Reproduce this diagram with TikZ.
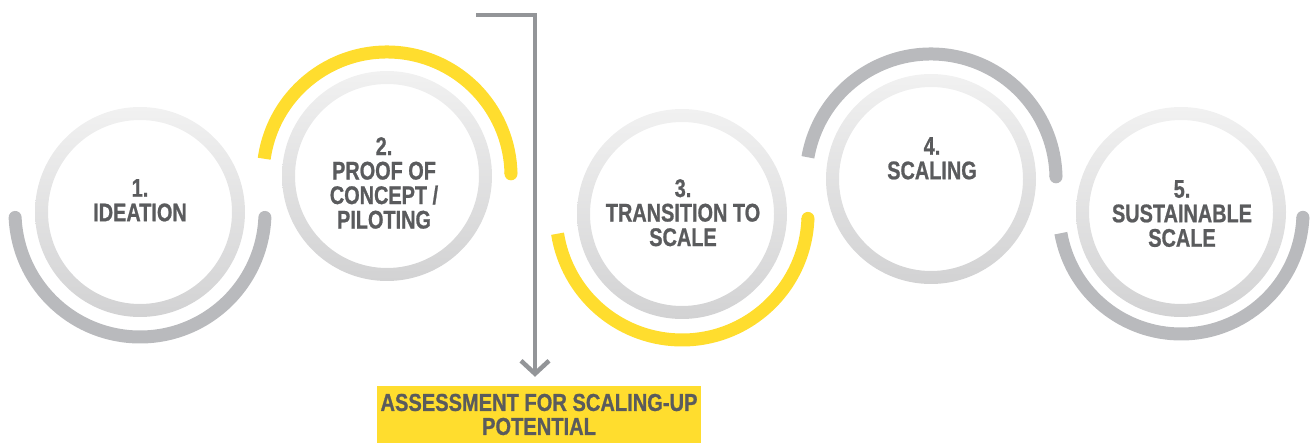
\documentclass[tikz,border=0pt]{standalone}
\usepackage{fontspec}
\newfontfamily\dinfont[FakeStretch=0.78,FakeBold=0.8]{Liberation Sans Bold}
\newfontfamily\dinboxfont[FakeStretch=0.82,FakeBold=0.8]{Liberation Sans Bold}
\usetikzlibrary{calc}
\definecolor{ringtop}{HTML}{F1F1F1}
\definecolor{ringbot}{HTML}{D2D2D3}
\definecolor{arcgray}{HTML}{B9BABD}
\definecolor{arcyellow}{HTML}{FFDD2E}
\definecolor{txtgray}{HTML}{5A5B5D}
\definecolor{conngray}{HTML}{939598}
\usetikzlibrary{arrows.meta}
\begin{document}
\begin{tikzpicture}[x=1pt,y=-1pt,
  stagetext/.style={anchor=north, inner sep=0pt, align=center, text=txtgray,
    font=\dinfont\fontsize{25.5}{24.5}\selectfont},
  ringshade/.style={top color=ringtop, bottom color=ringbot, even odd rule},
  outerarc/.style={line width=13pt, line cap=butt},
  roundboth/.style={line width=13pt, line cap=round},
  conn/.style={draw=conngray, line width=4.5pt, -{Straight Barb[length=13pt,width=28pt]}},
  assessbox/.style={fill=arcyellow, minimum width=324pt, minimum height=57pt, inner sep=0pt,
    align=center, text=txtgray, font=\dinboxfont\fontsize{24.5}{24}\selectfont}
]
\useasboundingbox (0,0) rectangle (1312,443);

% centres
\coordinate (c1) at (140,212);
\coordinate (c2) at (387,176);
\coordinate (c3) at (682,214);
\coordinate (c4) at (931,179);
\coordinate (c5) at (1181,212);

% rings
\foreach \c in {c1,c2,c3,c4,c5}
  \shade[ringshade] (\c) circle[radius=105] (\c) circle[radius=92];

% outer arcs
\draw[roundboth, draw=arcgray] ($(c1)+(2.5:125)$) arc[start angle=2.5, end angle=177.5, radius=125];

\draw[outerarc, draw=arcyellow] ($(c2)+(188:124)$) arc[start angle=188, end angle=359, radius=124];
\fill[arcyellow] ($(c2)+(359:124)$) circle[radius=6.5];

\draw[outerarc, draw=arcyellow] ($(c3)+(2:126)$) arc[start angle=2, end angle=171, radius=126];
\fill[arcyellow] ($(c3)+(2:126)$) circle[radius=6.5];

\draw[outerarc, draw=arcgray] ($(c4)+(190:125)$) arc[start angle=190, end angle=359, radius=125];
\fill[arcgray] ($(c4)+(359:125)$) circle[radius=6.5];

\draw[outerarc, draw=arcgray] ($(c5)+(2.5:122)$) arc[start angle=2.5, end angle=170, radius=122];
\fill[arcgray] ($(c5)+(2.5:122)$) circle[radius=6.5];

% texts
\node[stagetext] (n1) at (140,179) {1.\\IDEATION};
\node[stagetext] (n2) at (384,137) {2.\\PROOF OF\\CONCEPT /\\PILOTING};
\node[stagetext] (n3) at (683,179) {3.\\TRANSITION TO\\SCALE};
\node[stagetext] (n4) at (932,137) {4.\\SCALING};
\node[stagetext] (n5) at (1182,180) {5.\\SUSTAINABLE\\SCALE};

% assessment box
\node[assessbox] (box) at (539,414.5) {ASSESSMENT FOR SCALING-UP\\POTENTIAL};

% connector
\coordinate (astart) at (476,15);
\coordinate (aturn) at (535,15);
\draw[conn, shorten >=9pt] (astart) -- (aturn) -- (box.north -| aturn);
\end{tikzpicture}
\end{document}
